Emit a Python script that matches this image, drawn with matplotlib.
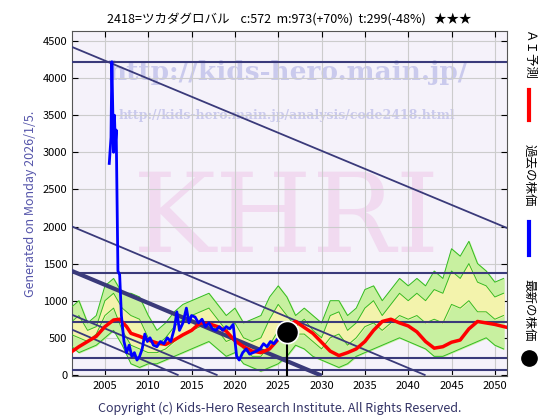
import matplotlib
matplotlib.use("Agg")
import matplotlib.pyplot as plt
import numpy as np

plt.rcParams['font.family'] = ['Noto Sans CJK JP', 'DejaVu Sans']

# past price (blue)
price_x = [2005.5, 2005.7, 2005.8, 2005.9, 2006.0, 2006.1, 2006.2, 2006.3, 2006.5, 2006.7, 2006.9,
           2007.2, 2007.5, 2007.8, 2008.1, 2008.4, 2008.7, 2009.0, 2009.3, 2009.6, 2009.9,
           2010.2, 2010.6, 2011.0, 2011.4, 2011.8, 2012.2, 2012.6, 2013.0, 2013.3, 2013.6,
           2014.0, 2014.4, 2014.7, 2015.0, 2015.4, 2015.8, 2016.2, 2016.6, 2017.0, 2017.4,
           2017.8, 2018.2, 2018.6, 2019.0, 2019.4, 2019.8, 2020.2, 2020.5, 2020.9, 2021.3,
           2021.7, 2022.1, 2022.5, 2022.9, 2023.3, 2023.7, 2024.1, 2024.5, 2024.9, 2025.3]
price_y = [2850, 3200, 4220, 3600, 3000, 3500, 3100, 3300, 1400, 1350, 800,
           450, 300, 400, 250, 300, 200, 250, 350, 550, 450,
           500, 400, 380, 450, 420, 500, 450, 620, 850, 600,
           700, 900, 700, 800, 780, 700, 750, 650, 700, 620,
           600, 650, 600, 650, 620, 680, 250, 200, 300, 350,
           280, 300, 320, 350, 420, 380, 450, 420, 480, 500]

# latest price
latest_x = 2026.0
latest_y = 572

# AI forecast (red)
ai_x = [2001, 2002, 2003, 2004, 2005, 2006, 2006.7, 2007.5, 2008, 2009, 2010, 2011, 2012, 2013,
        2014, 2015, 2016, 2017, 2018, 2019, 2020, 2021, 2022, 2023, 2024, 2025, 2026, 2027,
        2028, 2029, 2030, 2031, 2032, 2033, 2034, 2035, 2036, 2037, 2038, 2039, 2040, 2041,
        2042, 2043, 2044, 2045, 2046, 2047, 2048, 2049, 2050, 2051.4]
ai_y = [300, 380, 450, 520, 650, 740, 750, 650, 560, 520, 470, 430, 410, 470,
        540, 600, 700, 690, 650, 590, 460, 380, 320, 300, 350, 480, 650, 720,
        640, 560, 440, 320, 260, 300, 350, 450, 600, 720, 750, 700, 660, 580,
        450, 360, 380, 440, 470, 620, 720, 700, 680, 640]

# forecast envelope
env_x = list(range(2001, 2052))
env_hi = [900, 1000, 700, 800, 1200, 1300, 1100, 1100, 1050, 800, 600, 700, 850, 950,
          1000, 1050, 1100, 950, 800, 900, 700, 750, 800, 1050, 1200, 1050, 800, 900,
          800, 700, 1000, 1000, 800, 900, 1150, 1200, 1000, 1150, 1300, 1200, 1300, 1200,
          1400, 1300, 1700, 1600, 1800, 1500, 1400, 1250, 1300]
env_lo = [400, 300, 350, 400, 500, 600, 400, 150, 100, 150, 150, 200, 250, 300,
          350, 400, 450, 350, 250, 300, 150, 100, 50, 100, 150, 250, 400, 350,
          250, 200, 150, 100, 150, 250, 300, 350, 400, 450, 500, 450, 400, 350,
          250, 250, 300, 350, 400, 450, 500, 400, 350]
green_a = [700, 800, 600, 650, 1000, 1100, 900, 800, 750, 500, 400, 500, 650, 750,
           800, 850, 900, 750, 600, 700, 500, 450, 500, 750, 950, 800, 650, 750,
           600, 500, 800, 850, 600, 700, 900, 1000, 800, 950, 1100, 1000, 1100, 1000,
           1150, 1100, 1400, 1300, 1500, 1250, 1200, 1050, 1100]
green_b = [550, 500, 450, 550, 800, 900, 600, 400, 350, 300, 300, 350, 450, 550,
           600, 650, 700, 600, 450, 500, 350, 250, 250, 400, 600, 500, 550, 550,
           450, 350, 500, 550, 400, 500, 650, 700, 600, 700, 800, 750, 800, 700,
           750, 700, 950, 900, 1000, 850, 850, 750, 800]

# support / resistance lines
hlines = [4220, 1380, 715, 230, 65]
diag_lines = [((2001.2, 4420), (2051.4, 1980), 1.3),
              ((2001.2, 2000), (2041.9, 0), 1.3),
              ((2001.2, 1400), (2029.8, 0), 3.0),
              ((2001.2, 810), (2017.9, 0), 1.3),
              ((2001.2, 610), (2013.4, 0), 1.3)]

fig = plt.figure(figsize=(5.6, 4.2), dpi=100)
ax = fig.add_axes([72/560, 44/420, 435/560, 345/420])
ax.set_facecolor('#f5f2fa')
ax.set_xlim(2001.2, 2051.4)
ax.set_ylim(-15, 4635)
ax.set_xticks(range(2005, 2051, 5))
ax.set_yticks(range(0, 4501, 500))
ax.grid(color='#cccccc', linewidth=0.8)
ax.tick_params(direction='in', labelsize=8, top=True, right=True, length=4)
for s in ax.spines.values():
    s.set_color('#555555')

ax.text(2026, 3980, 'http://kids-hero.main.jp/', fontsize=19, family='DejaVu Serif',
        fontweight='bold', color='#c0c0ea', alpha=0.8, ha='center', zorder=1, clip_on=True)
ax.text(2026, 3450, 'http://kids-hero.main.jp/analysis/code2418.html', fontsize=9,
        family='DejaVu Serif', fontweight='bold', color='#c0c0ea', alpha=0.8, ha='center',
        zorder=1, clip_on=True)
ax.text(2026, 1650, 'KHRI', fontsize=80, family='DejaVu Serif', color='#f0d4ee',
        alpha=0.8, ha='center', zorder=1, clip_on=True)

ax.fill_between(env_x, env_lo, env_hi, color='#c8f0a0', zorder=2)
ax.fill_between(env_x, green_b, green_a, color='#fff4b0', alpha=0.8, zorder=2)
for g in (env_hi, env_lo, green_a, green_b):
    ax.plot(env_x, g, color='#33bb22', linewidth=0.7, zorder=3)

for y in hlines:
    ax.axhline(y, color='#3a3a7a', linewidth=1.5, zorder=4)
for (x0, y0), (x1, y1), lw in diag_lines:
    ax.plot([x0, x1], [y0, y1], color='#3a3a7a', linewidth=lw, zorder=4)

ax.plot(ai_x, ai_y, color='#ff0000', linewidth=2.5, zorder=5)
ax.plot(price_x, price_y, color='#0000ff', linewidth=2.0, zorder=6)
ax.plot([latest_x, latest_x], [0, latest_y], color='black', linewidth=1.5, zorder=7)
ax.plot(latest_x, latest_y, 'o', markersize=16, color='black', markeredgecolor='white',
        markeredgewidth=1.2, zorder=8)

ax.set_title('2418=ツカダグロバル    c:572  m:973(+70%)  t:299(-48%)   ★★★',
             fontsize=9, pad=6)
ax.set_ylabel('Generated on Monday 2026/1/5.', color='#5555aa', fontsize=9)
fig.text(0.5, 0.02, 'Copyright (c) Kids-Hero Research Institute. All Rights Reserved.',
         ha='center', fontsize=9, color='#333366')

# right-side legend
fig.text(529/560, 1 - 55/420, 'ＡＩ予測', rotation=-90, ha='center', va='center', fontsize=9)
fig.add_artist(plt.Line2D([529/560, 529/560], [1 - 90/420, 1 - 120/420], color='red', linewidth=3))
fig.text(529/560, 1 - 175/420, '過去の株価', rotation=-90, ha='center', va='center', fontsize=9)
fig.add_artist(plt.Line2D([529/560, 529/560], [1 - 222/420, 1 - 255/420], color='blue', linewidth=3))
fig.text(529/560, 1 - 310/420, '最新の株価', rotation=-90, ha='center', va='center', fontsize=9)
fig.add_artist(plt.Line2D([529/560], [1 - 358/420], marker='o', markersize=11, color='black'))

fig.savefig('out.png', dpi=100)
